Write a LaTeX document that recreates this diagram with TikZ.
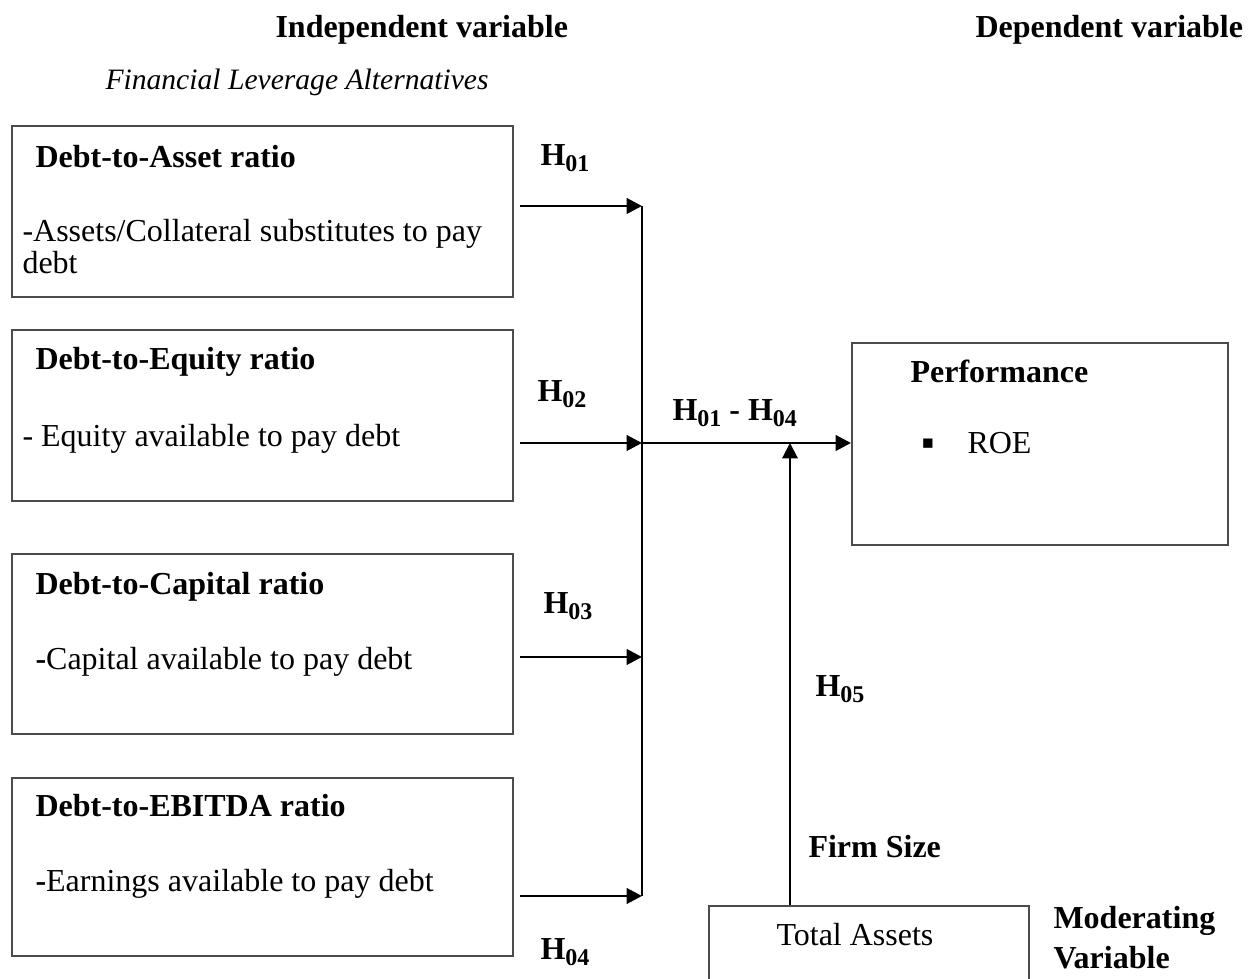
\documentclass[tikz,border=0pt]{standalone}
\usepackage{fontspec}
\setmainfont{Liberation Serif}
\newfontfamily\symfont{DejaVu Sans}
\usetikzlibrary{arrows.meta,positioning}
\newcommand\pxl{0.375pt}
\newcommand\hsub[1]{\raisebox{-2pt}{\fontsize{9}{10}\selectfont#1}}
\tikzset{
  txt/.style={inner sep=0pt, anchor=base west, font=\fontsize{12}{14}\selectfont},
  bold/.style={txt, font=\fontsize{12}{14}\selectfont\bfseries},
  box/.style={draw=black!70, line width=0.6pt, anchor=north west, inner sep=0pt},
  arr/.style={line width=1.1pt, -{Triangle[length=5.8pt,width=5.8pt]}}
}
\begin{document}
\begin{tikzpicture}[x=0.375pt,y=-0.375pt]
\useasboundingbox (0,0) rectangle (1252,979);
% headings
\node[bold] (indep) at (275,38) {Independent variable};
\node[bold] (dep) at (975,38) {Dependent variable};
\node[txt, font=\fontsize{11.1}{13}\selectfont\itshape] (alt) at (105,90) {Financial Leverage Alternatives};
% leverage boxes
\node[box, minimum width=501*\pxl, minimum height=171*\pxl] (b1) at (11,125) {};
\node[box, minimum width=501*\pxl, minimum height=171*\pxl] (b2) at (11,329) {};
\node[box, minimum width=501*\pxl, minimum height=180*\pxl] (b3) at (11,553) {};
\node[box, minimum width=501*\pxl, minimum height=178*\pxl] (b4) at (11,777) {};
\node[bold] (t1) at (35,168) {Debt-to-Asset ratio};
\node[txt] (d1) at (22,242) {-Assets/Collateral substitutes to pay};
\node[txt] (d1b) at (22,274) {debt};
\node[bold] (t2) at (35,370) {Debt-to-Equity ratio};
\node[txt] (d2) at (22,447) {- Equity available to pay debt};
\node[bold] (t3) at (35,595) {Debt-to-Capital ratio};
\node[txt] (d3) at (35,670) {\textbf{-}Capital available to pay debt};
\node[bold] (t4) at (35,817) {Debt-to-EBITDA ratio};
\node[txt] (d4) at (35,892) {\textbf{-}Earnings available to pay debt};
% hypotheses
\node[bold] (h1) at (540,166) {H\hsub{01}};
\node[bold] (h2) at (537,402) {H\hsub{02}};
\node[bold] (h3) at (543,614) {H\hsub{03}};
\node[bold] (h4) at (540,960) {H\hsub{04}};
\node[bold] (h14) at (672,421) {H\hsub{01} - H\hsub{04}};
\node[bold] (h5) at (815,697) {H\hsub{05}};
% dependent and moderating
\node[box, minimum width=376*\pxl, minimum height=202*\pxl] (perf) at (851,342) {};
\node[bold] (perfT) at (910,383) {Performance};
\node[txt] (bul) at (921,453) {\raisebox{1.5pt}{\symfont\fontsize{7}{8}\selectfont ▪}};
\node[txt] (roe) at (967,454) {ROE};
\node[box, minimum width=320*\pxl, minimum height=120*\pxl] (ta) at (708,905) {};
\node[txt] (taT) at (776,946) {Total Assets};
\node[bold] (size) at (808,858) {Firm Size};
\node[bold] (mod) at (1053,929) {Moderating};
\node[bold] (var) at (1053,969) {Variable};
% connectors
\coordinate (j1) at (642,206);
\coordinate (j2) at (642,443);
\coordinate (j3) at (642,657);
\coordinate (j4) at (642,896);
\coordinate (m) at (790,443);
\draw[line width=0.8pt] (j1) -- (j4);
\foreach \i in {1,...,4} \draw[arr] (b\i.east |- j\i) ++(6,0) -- (j\i);
\draw[arr] (j2) -- (perf.west |- j2);
\draw[arr, line width=0.8pt] (ta.north -| m) -- (m);
\end{tikzpicture}
\end{document}
